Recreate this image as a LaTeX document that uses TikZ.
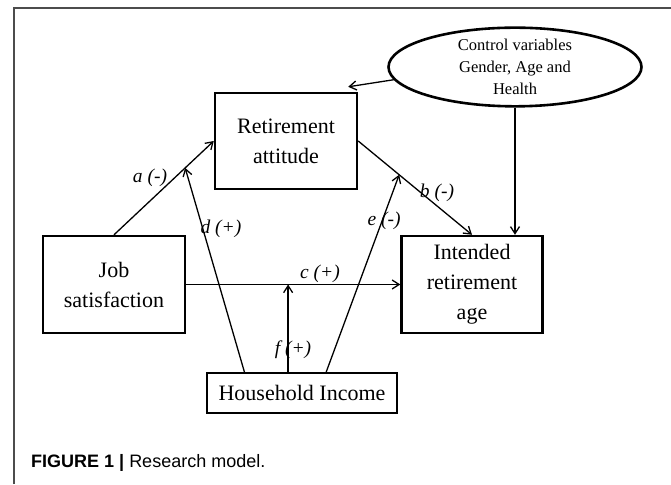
\documentclass[tikz,border=0pt]{standalone}
\usepackage{fontspec}
\setmainfont{Liberation Serif}
\newfontfamily\capfont{Liberation Sans}
\usetikzlibrary{arrows.meta,shapes.geometric,calc}
\tikzset{
  boxnode/.style={draw, line width=2.4pt, rectangle, inner sep=0pt, align=center,
    font=\fontsize{22}{30}\selectfont},
  ellnode/.style={draw, line width=2.6pt, ellipse, inner sep=0pt, align=center,
    font=\fontsize{16.5}{22}\selectfont},
  conn/.style={line width=1.3pt, -{Straight Barb[length=7pt,width=9pt]}},
  plainline/.style={line width=1.3pt},
  lab/.style={font=\fontsize{19.5}{22}\selectfont\itshape, inner sep=0pt},
  frameline/.style={line width=1.5pt, draw=black!70}
}
\begin{document}
\begin{tikzpicture}[x=1pt,y=1pt]
\useasboundingbox (0,0) rectangle (671,484);
\fill[white] (0,0) rectangle (671,484);
% frame
\coordinate (fA) at (14,0);
\coordinate (fB) at (14,476);
\coordinate (fC) at (671,476);
\draw[frameline] (fA) -- (fB) -- (fC);
% nodes
\node[ellnode, minimum width=253pt, minimum height=78pt] (ell) at (515,417)
  {Control variables\\Gender, Age and\\Health};
\node[boxnode, minimum width=142pt, minimum height=96pt] (ra) at (286,343)
  {Retirement\\attitude};
\node[boxnode, minimum width=142pt, minimum height=97pt] (js) at (114,199.5)
  {Job\\satisfaction};
\node[boxnode, minimum width=141pt, minimum height=97pt] (ira) at (472,199.5)
  {Intended\\retirement\\age};
\node[boxnode, line width=1.9pt, minimum width=190pt, minimum height=40pt] (hh) at (302,91)
  {Household Income};
% helper coordinates
\coordinate (raTip) at ($(ra.north east)+(-10,5)$);
\coordinate (dTip) at ($(js.north)!0.713!(ra.west)$);
\coordinate (eTip) at ($(ra.east)!0.36!(ira.north)$);
\coordinate (fTip) at ($(js.east)!0.476!(ira.west)$);
\coordinate (dStart) at ($(hh.north west)!0.2!(hh.north east)$);
\coordinate (eStart) at ($(hh.north west)!0.626!(hh.north east)$);
\coordinate (fStart) at (fTip |- hh.north);
\coordinate (ctrlEnd) at (ell.south |- ira.north);
% connectors
\draw[conn] (js.north) -- (ra.west);
\draw[conn] (ra.east) -- (ira.north);
\draw[conn] (js.east) -- (ira.west);
\draw[conn] (ell.186) -- (raTip);
\draw[conn] (ell.south) -- (ctrlEnd);
\draw[conn] (dStart) -- (dTip);
\draw[conn] (eStart) -- (eTip);
\draw[conn] (fStart) -- (fTip);
% labels
\node[lab] (la) at (150,306) {a (-)};
\node[lab] (ld) at (221,255) {d (+)};
\node[lab] (lb) at (437,291) {b (-)};
\node[lab] (le) at (384,263) {e (-)};
\node[lab] (lc) at (320,210) {c (+)};
\node[lab] (lf) at (293,134) {f (+)};
% caption
\node[anchor=west, inner sep=0pt, font=\capfont\fontsize{18}{20}\selectfont] (cap) at (31,21)
  {\textbf{FIGURE 1 |} Research model.};
\end{tikzpicture}
\end{document}
